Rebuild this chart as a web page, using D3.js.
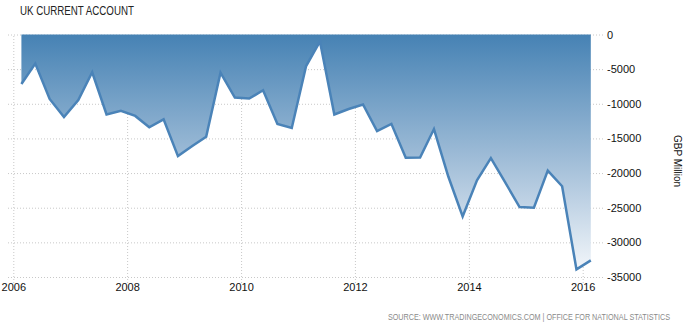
<!DOCTYPE html>
<html><head>
<meta charset="utf-8">
<script src="https://d3js.org/d3.v7.min.js"></script>
<style>
  body { margin: 0; background: #fff; }
  svg text { font-family: "Liberation Sans", Arial, sans-serif; }
  .gridlines line { stroke: #c8c8c8; stroke-dasharray: 1,2; }
  .gridlines .domain { stroke: none; }
  .axis .domain { stroke: none; }
  .axis line { stroke: none; }
  .axis text { fill: #111; font-size: 11px; }
</style>
</head>
<body>
<svg id="svg1" width="687" height="327"></svg>
<script>

// quarterly values, GBP Million, 2006 Q1 .. 2016 Q1
const quarters = d3.range(41).map(i => ({year: 2006 + Math.floor(i/4), q: i%4 + 1}));
const values = [
  -7150, -4200, -9300, -11900, -9450, -5450, -11550, -11000,
  -11750, -13400, -12250, -17550, -16100, -14750, -5500, -9100,
  -9250, -8050, -12900, -13500, -4550, -1000, -11550, -10750,
  -10100, -13950, -12900, -17800, -17750, -13650, -20500, -26250,
  -21050, -17850, -21350, -24900, -25000, -19650, -21900, -33900,
  -32600
];
const yTicks = [0, -5000, -10000, -15000, -20000, -25000, -30000, -35000];
const xTicks = [2006, 2008, 2010, 2012, 2014, 2016];

const title = "UK CURRENT ACCOUNT";
const unit = "GBP Million";
const source = "SOURCE: WWW.TRADINGECONOMICS.COM | OFFICE FOR NATIONAL STATISTICS";

const svg = d3.select("svg#svg1");

// quarter -> date (points sit a little after the start of each quarter)
const qDate = d => new Date(d.year, (d.q - 1) * 3 + 1, 22);
const data = quarters.map((d, i) => ({date: qDate(d), value: values[i]}));

const xScale = d3.scaleTime()
  .domain([new Date(2006, 0, 1), new Date(2016, 0, 1)])
  .range([13.3, 582.7]);
const yScale = d3.scaleLinear()
  .domain([0, -35000])
  .range([34.5, 277]);

// gradient for the area
const defs = svg.append("defs");
const grad = defs.append("linearGradient")
  .attr("id", "areaGrad")
  .attr("gradientUnits", "userSpaceOnUse")
  .attr("x1", 0).attr("x2", 0)
  .attr("y1", yScale(0)).attr("y2", yScale(-35000));
grad.append("stop").attr("offset", "0%").attr("stop-color", "#4682b4");
grad.append("stop").attr("offset", "55%").attr("stop-color", "#a6c1da");
grad.append("stop").attr("offset", "100%").attr("stop-color", "#f7f9fc");

// gridlines
const hGrid = d3.axisRight(yScale).tickValues(yTicks).tickSize(597).tickFormat("");
svg.append("g").attr("class", "gridlines")
  .attr("transform", "translate(8,0)")
  .call(hGrid);

const vGrid = d3.axisBottom(xScale)
  .tickValues(xTicks.map(y => new Date(y, 0, 1)))
  .tickSize(-(yScale(-35000) - yScale(0)) - 6).tickFormat("");
svg.append("g").attr("class", "gridlines")
  .attr("transform", `translate(0,${yScale(-35000) + 6})`)
  .call(vGrid);

// area + line
const area = d3.area()
  .x(d => xScale(d.date))
  .y0(yScale(0))
  .y1(d => yScale(d.value));
svg.append("path")
  .datum(data)
  .attr("fill", "url(#areaGrad)")
  .attr("d", area);

const line = d3.line()
  .x(d => xScale(d.date))
  .y(d => yScale(d.value));
svg.append("path")
  .datum(data)
  .attr("fill", "none")
  .attr("stroke", "#4a83b8")
  .attr("stroke-width", 2.5)
  .attr("stroke-linejoin", "miter")
  .attr("d", line);

// axes labels
const yAxis = d3.axisRight(yScale).tickValues(yTicks).tickSize(0).tickPadding(0)
  .tickFormat(d => "" + d);
svg.append("g").attr("class", "axis")
  .attr("transform", "translate(607,0)")
  .call(yAxis);

const xAxis = d3.axisBottom(xScale)
  .tickValues(xTicks.map(y => new Date(y, 0, 1)))
  .tickSize(0).tickPadding(0)
  .tickFormat(d => "" + d.getFullYear());
svg.append("g").attr("class", "axis")
  .attr("transform", "translate(0,283)")
  .call(xAxis);

// title, unit, source (squeezed horizontally like the condensed original font)
svg.append("text")
  .attr("transform", "translate(20,15) scale(0.78,1)")
  .attr("font-size", 12.5)
  .attr("fill", "#222")
  .text(title);

svg.append("text")
  .attr("transform", "translate(674,161) rotate(90)")
  .attr("text-anchor", "middle")
  .attr("font-size", 10)
  .attr("fill", "#111")
  .text(unit);

svg.append("text")
  .attr("transform", "translate(670,320) scale(0.85,1)")
  .attr("text-anchor", "end")
  .attr("font-size", 8.5)
  .attr("fill", "#8a8a8a")
  .text(source);

</script>
</body></html>
